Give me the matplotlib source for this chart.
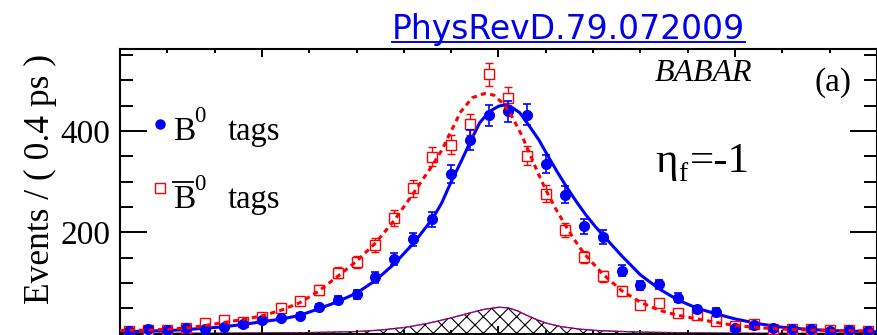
import numpy as np
import matplotlib
matplotlib.use("Agg")
import matplotlib.pyplot as plt
from matplotlib.lines import Line2D
from matplotlib.ticker import FixedLocator, MultipleLocator, NullFormatter

# ---- binned decay-time data (bin width 0.4 ps) ----
dt_bins = [-7.8, -7.4, -7.0, -6.6, -6.2, -5.8, -5.4, -5.0, -4.6, -4.2,
           -3.8, -3.4, -3.0, -2.6, -2.2, -1.8, -1.4, -1.0, -0.6, -0.2,
           0.2, 0.6, 1.0, 1.4, 1.8, 2.2, 2.6, 3.0, 3.4, 3.8,
           4.2, 4.6, 5.0, 5.4, 5.8, 6.2, 6.6, 7.0, 7.4, 7.8]

b0_counts = [5, 10, 7, 12, 10, 14, 18, 26, 30, 35,
             52, 66, 78, 111, 147, 186, 226, 316, 382, 431,
             439, 432, 335, 274, 212, 190, 124, 95, 97, 71,
             48, 43, 11, 17, 12, 10, 10, 6, 7, 5]
b0_errors = [2.2, 3.2, 2.6, 3.5, 3.2, 3.7, 4.2, 5.1, 5.5, 5.9,
             7.2, 8.1, 8.8, 10.5, 12.1, 13.6, 15.0, 17.8, 19.5, 20.8,
             21.0, 20.8, 18.3, 16.6, 14.6, 13.8, 11.1, 9.7, 9.8, 8.4,
             6.9, 6.6, 3.3, 4.1, 3.5, 3.2, 3.2, 2.4, 2.6, 2.2]

b0bar_counts = [6, 8, 8, 12, 21, 26, 23, 33, 50, 64,
                86, 120, 141, 175, 228, 287, 349, 373, 413, 512,
                466, 351, 276, 205, 151, 113, 84, 56, 60, 40,
                36, 25, 15, 18, 10, 10, 10, 8, 8, 6]
b0bar_errors = [2.4, 2.8, 2.8, 3.5, 4.6, 5.1, 4.8, 5.7, 7.1, 8.0,
                9.3, 11.0, 11.9, 13.2, 15.1, 16.9, 18.7, 19.3, 20.3, 22.6,
                21.6, 18.7, 16.6, 14.3, 12.3, 10.6, 9.2, 7.5, 7.7, 6.3,
                6.0, 5.0, 3.9, 4.2, 3.2, 3.2, 3.2, 2.8, 2.8, 2.4]

# ---- fitted PDF projections ----
b0_fit_t = [-8.0, -7.4, -7.0, -6.6, -6.2, -5.8, -5.4, -5.0, -4.6, -4.2,
            -3.8, -3.4, -3.0, -2.6, -2.2, -1.8, -1.4, -1.2, -1.0, -0.8,
            -0.6, -0.4, -0.2, 0.0, 0.1, 0.25, 0.45, 0.65, 0.85, 1.05,
            1.25, 1.45, 1.65, 1.85, 2.05, 2.25, 2.6, 3.0, 3.4, 3.8,
            4.2, 4.6, 5.0, 5.5, 6.0, 6.6, 7.2, 8.0]
b0_fit_y = [3.7, 5.1, 5.8, 8.0, 10.5, 13.6, 18.0, 23.5, 28.5, 36.0,
            49.0, 63.0, 80.0, 105.0, 138.0, 178.0, 226.0, 258.0, 300.0, 338.0,
            378.0, 416.0, 438.0, 449.0, 451.0, 449.0, 436.0, 410.0, 383.0, 350.0,
            318.0, 288.0, 260.0, 234.0, 211.0, 190.0, 154.0, 116.0, 88.0, 66.0,
            50.0, 39.0, 29.0, 19.5, 12.5, 8.0, 5.5, 3.7]

b0bar_fit_t = [-8.0, -7.4, -7.0, -6.6, -6.2, -5.8, -5.4, -5.0, -4.6, -4.2,
               -3.8, -3.4, -3.0, -2.6, -2.2, -1.8, -1.4, -1.2, -1.0, -0.8,
               -0.55, -0.3, -0.1, 0.1, 0.3, 0.5, 0.7, 0.85, 1.0, 1.2,
               1.4, 1.6, 1.8, 2.2, 2.6, 3.0, 3.4, 3.8, 4.2, 4.6,
               5.0, 5.6, 6.2, 7.0, 8.0]
b0bar_fit_y = [6.0, 7.0, 8.5, 11.0, 16.0, 22.0, 28.0, 35.0, 46.0, 61.0,
               84.0, 113.0, 143.0, 179.0, 224.0, 277.0, 332.0, 362.0, 400.0, 438.0,
               466.0, 474.0, 471.0, 454.0, 426.0, 390.0, 346.0, 314.0, 284.0, 248.0,
               216.0, 186.0, 159.0, 118.0, 85.0, 62.0, 46.0, 36.0, 29.0, 22.0,
               16.0, 11.0, 8.0, 6.0, 5.0]

# ---- background component ----
bkg_t = [-8.0, -6.0, -4.0, -3.0, -2.5, -2.0, -1.5, -1.0, -0.6, -0.3,
         0.0, 0.2, 0.4, 0.6, 0.8, 1.0, 1.3, 1.7, 2.1, 2.5,
         3.0, 4.0, 5.0, 6.0, 8.0]
bkg_y = [0.3, 0.8, 2.0, 4.0, 7.0, 12.0, 20.0, 31.0, 41.0, 48.0,
         52.0, 51.0, 45.0, 36.0, 28.0, 21.0, 14.0, 9.0, 6.0, 4.5,
         3.0, 1.5, 0.8, 0.5, 0.2]

y_major = [200, 400]
y_tick_labels = ["200", "400"]

BLUE = "#0000ff"
RED = "#ff0000"
SERIF = "Liberation Serif"

W, H = 878, 335
plt.rcParams["hatch.linewidth"] = 0.8
fig = plt.figure(figsize=(W / 100, H / 100), dpi=100)


def fx(px):
    return px / W


def fy(py):
    return 1 - py / H


ax = fig.add_axes([fx(120), fy(333.6), (877 - 120) / W, (333.6 - 49) / H])
ax.set_xlim(-8, 8)
ax.set_ylim(0, 562)

# background (hatched) with its two outlines
ax.fill_between(bkg_t, 0, bkg_y, facecolor="none", edgecolor="black",
                hatch="xx", linewidth=0, zorder=1)
ax.plot(bkg_t, bkg_y, color=BLUE, lw=0.9, zorder=2)
ax.plot(bkg_t, bkg_y, color=RED, lw=0.9, ls=(0, (3, 2)), zorder=2)

# fitted curve for B0 tags
ax.plot(b0_fit_t, b0_fit_y, color=BLUE, lw=2.2, zorder=3)

# data points
ax.errorbar(dt_bins, b0bar_counts, yerr=b0bar_errors, fmt="s", ms=6.6,
            mfc="white", mec=RED, mew=1.0, ecolor=RED, elinewidth=1.0,
            capsize=2.6, capthick=1.0, zorder=4)
ax.errorbar(dt_bins, b0_counts, yerr=b0_errors, fmt="o", ms=7.0,
            mfc=BLUE, mec=BLUE, ecolor=BLUE, elinewidth=1.2,
            capsize=2.6, capthick=1.2, zorder=5)

# fitted curve for anti-B0 tags
ax.plot(b0bar_fit_t, b0bar_fit_y, color=RED, lw=2.2, ls=(0, (1.7, 1.4)),
        zorder=6)

# axes styling
for sp in ax.spines.values():
    sp.set_linewidth(1.5)
ax.xaxis.set_major_locator(FixedLocator([-5, 0, 5]))
ax.xaxis.set_minor_locator(MultipleLocator(1))
ax.xaxis.set_major_formatter(NullFormatter())
ax.yaxis.set_major_locator(FixedLocator(y_major))
ax.set_yticklabels(y_tick_labels)
ax.yaxis.set_minor_locator(MultipleLocator(50))
ax.tick_params(axis="both", which="both", direction="in", top=True,
               right=True, width=1.4)
ax.tick_params(axis="x", which="major", length=6)
ax.tick_params(axis="x", which="minor", length=3)
ax.tick_params(axis="y", which="major", length=19.5, pad=7)
ax.tick_params(axis="y", which="minor", length=9.5)
for lab in ax.get_yticklabels():
    lab.set_fontfamily(SERIF)
    lab.set_fontsize(24)

# y axis title
fig.text(fx(40), fy(179), "Events / ( 0.4 ps )", rotation=90,
         ha="center", va="center", fontfamily=SERIF, fontsize=25.5)

# legend entries
fig.add_artist(Line2D([fx(160)], [fy(124)], marker="o", ms=6.5,
                      color=BLUE, transform=fig.transFigure))
fig.text(fx(173), fy(140), "B", fontfamily=SERIF, fontsize=24,
         va="baseline")
fig.text(fx(194), fy(122), "0", fontfamily=SERIF, fontsize=16.5,
         va="baseline")
fig.text(fx(228), fy(140), "tags", fontfamily=SERIF, fontsize=23.5,
         va="baseline")

fig.add_artist(Line2D([fx(160)], [fy(188)], marker="s", ms=6.6,
                      mfc="white", mec=RED, mew=1.0, ls="none",
                      transform=fig.transFigure))
fig.text(fx(173), fy(208), "B", fontfamily=SERIF, fontsize=24,
         va="baseline")
fig.add_artist(Line2D([fx(173.5), fx(193)], [fy(182), fy(182)], lw=1.3,
                      color="black", transform=fig.transFigure))
fig.text(fx(194), fy(190), "0", fontfamily=SERIF, fontsize=16.5,
         va="baseline")
fig.text(fx(228), fy(208), "tags", fontfamily=SERIF, fontsize=23.5,
         va="baseline")

# annotations inside the frame
fig.text(fx(655), fy(81), "BABAR", fontfamily=SERIF, style="italic",
         fontsize=23, va="baseline")
fig.text(fx(815), fy(91), "(a)", fontfamily=SERIF, fontsize=24,
         va="baseline")
fig.text(fx(655), fy(172), "\u03b7", fontfamily=SERIF, fontsize=31,
         va="baseline")
fig.text(fx(678), fy(181), "f", fontfamily=SERIF, fontsize=20,
         va="baseline")
fig.text(fx(690), fy(172), "=-1", fontfamily=SERIF, fontsize=31,
         va="baseline")

# linked reference above the frame
ref = fig.text(fx(392), fy(39.3), "PhysRevD.79.072009",
               fontfamily="DejaVu Sans", fontsize=23.8, color="#0000ee",
               va="baseline")
fig.canvas.draw()
bb = ref.get_window_extent()
fig.add_artist(Line2D([bb.x0 / W, bb.x1 / W], [fy(42), fy(42)], lw=1.4,
                      color="#0000ee", transform=fig.transFigure))

fig.savefig("out.png", dpi=100)
